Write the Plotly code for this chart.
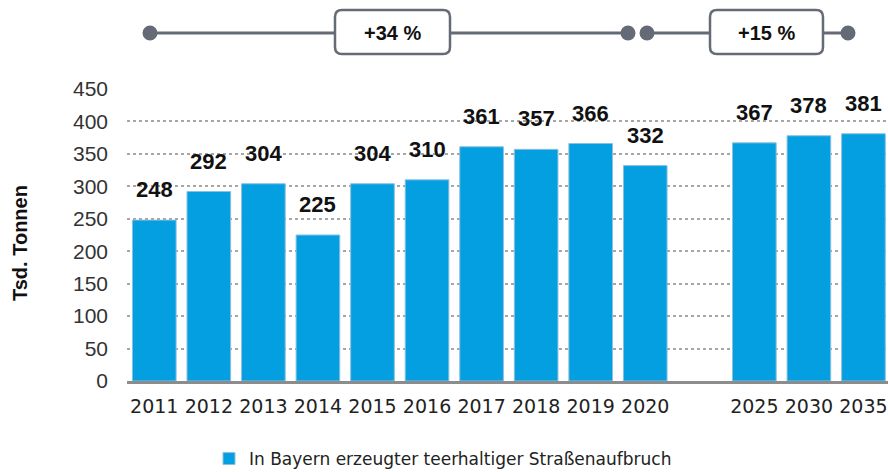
import plotly.graph_objects as go

categories = ["2011", "2012", "2013", "2014", "2015", "2016", "2017", "2018", "2019", "2020", "2025", "2030", "2035"]
values = [248, 292, 304, 225, 304, 310, 361, 357, 366, 332, 367, 378, 381]
positions = [0, 1, 2, 3, 4, 5, 6, 7, 8, 9, 11, 12, 13]
series_name = "In Bayern erzeugter teerhaltiger Straßenaufbruch"
y_ticks = [0, 50, 100, 150, 200, 250, 300, 350, 400, 450]
growth_labels = ["+34 %", "+15 %"]

BLUE = "#049fe1"
GRAY = "#646b76"

FW, FH = 888, 472
# plot area in window pixels
L, T, PW, PH = 127, 89, 761, 292
def px(xw):
    return (xw - L) / PW
def py(yw):
    return (T + PH - yw) / PH

fig = go.Figure()
fig.add_trace(go.Bar(
    x=positions, y=values, name=series_name,
    marker=dict(color=BLUE, line=dict(color="#8cc0de", width=1)),
    width=0.8, showlegend=True,
))

for p, v in zip(positions, values):
    fig.add_annotation(x=p, y=v, text=f"<b>{v}</b>", showarrow=False,
                       xanchor="center", yanchor="bottom", yshift=16,
                       font=dict(family="Liberation Sans, Arial", size=22, color="#111"))

# growth indicators
shapes = []
segments = [(150, 628, 335, 450), (647, 848, 710, 823)]
for (x0, x1, bx0, bx1) in segments:
    shapes.append(dict(type="line", xref="paper", yref="paper", x0=px(x0), x1=px(x1), y0=py(33), y1=py(33),
                       line=dict(color=GRAY, width=3)))
    for xc in (x0, x1):
        shapes.append(dict(type="circle", xref="paper", yref="paper",
                           x0=px(xc - 7.5), x1=px(xc + 7.5), y0=py(40.5), y1=py(25.5),
                           fillcolor=GRAY, line=dict(color=GRAY, width=0)))
    r = 7
    x0p, x1p, y0p, y1p = bx0, bx1, 10, 54
    path = (f"M {px(x0p + r)},{py(y0p)} L {px(x1p - r)},{py(y0p)} "
            f"Q {px(x1p)},{py(y0p)} {px(x1p)},{py(y0p + r)} L {px(x1p)},{py(y1p - r)} "
            f"Q {px(x1p)},{py(y1p)} {px(x1p - r)},{py(y1p)} L {px(x0p + r)},{py(y1p)} "
            f"Q {px(x0p)},{py(y1p)} {px(x0p)},{py(y1p - r)} L {px(x0p)},{py(y0p + r)} "
            f"Q {px(x0p)},{py(y0p)} {px(x0p + r)},{py(y0p)} Z")
    shapes.append(dict(type="path", xref="paper", yref="paper", path=path,
                       fillcolor="white", line=dict(color=GRAY, width=2.5)))
fig.update_layout(shapes=shapes)
for lab, (_, _, bx0, bx1) in zip(growth_labels, segments):
    fig.add_annotation(xref="paper", yref="paper", x=px((bx0 + bx1) / 2), y=py(33), text=f"<b>{lab}</b>",
                       xanchor="center", yanchor="middle",
                       showarrow=False, font=dict(family="Liberation Sans, Arial", size=20, color="#111"))

# y-axis title
fig.add_annotation(xref="paper", yref="paper", x=px(20), y=py(243), text="<b>Tsd. Tonnen</b>",
                   textangle=-90, xanchor="center", yanchor="middle", showarrow=False,
                   font=dict(family="Liberation Sans, Arial", size=20, color="#111"))

fig.update_layout(
    width=FW, height=FH,
    margin=dict(l=L, r=FW - L - PW, t=T, b=FH - T - PH, autoexpand=False),
    paper_bgcolor="white", plot_bgcolor="white",
    xaxis=dict(
        tickmode="array", tickvals=positions, ticktext=categories,
        range=[-0.5, 13.45], showgrid=False, zeroline=False, automargin=False,
        showline=True, linecolor="#8c8c8c", linewidth=3,
        ticks="", ticklen=0, ticklabelstandoff=6,
        tickfont=dict(family="DejaVu Sans, sans-serif", size=19, color="#222"),
    ),
    yaxis=dict(
        range=[0, 450], tickvals=y_ticks, showgrid=True, automargin=False,
        gridcolor="#a6a6a6", griddash="dot", gridwidth=2,
        zeroline=False, showline=False, ticks="", ticklabelstandoff=18,
        tickfont=dict(family="Liberation Sans, Arial", size=21, color="#333"),
    ),
    legend=dict(orientation="h", x=px(209), xanchor="left", y=py(459), yanchor="middle",
                font=dict(family="DejaVu Sans, sans-serif", size=17, color="#222"),
                itemwidth=30),
)

fig.write_html("out.html", config={"displayModeBar": False},
               post_script="document.body.style.margin='0';document.body.style.overflow='hidden';")
